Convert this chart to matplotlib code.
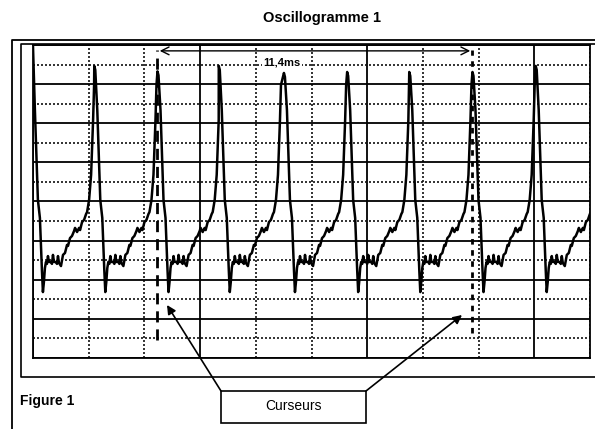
import numpy as np
import matplotlib
matplotlib.use("Agg")
import matplotlib.pyplot as plt
from matplotlib.patches import Rectangle

plt.rcParams['font.family'] = ['Liberation Sans', 'DejaVu Sans']

# screen: 10 divisions of 2 ms, 16 vertical divisions
t_max = 20.0
v_max = 16.0

# peak times (ms) and peak levels (div)
peak_t = [-0.04, 2.20, 4.47, 6.67, 9.01, 11.28, 13.51, 15.78, 18.05]
peak_v = [16.3, 14.93, 14.65, 14.93, 14.57, 14.62, 14.62, 14.62, 14.93]

# shape of one cycle after its peak (ms after peak, level in div)
shape_dt = [0.0, 0.036, 0.108, 0.216, 0.288, 0.360, 0.396, 0.432, 0.468,
            0.505, 0.541, 0.577, 0.613, 0.685, 0.721, 0.757, 0.793, 0.865,
            0.901, 0.937, 0.973, 1.045, 1.117, 1.189, 1.261, 1.297, 1.369,
            1.441, 1.514, 1.550, 1.622, 1.694, 1.730, 1.802, 1.874, 1.946,
            1.982, 2.054, 2.126, 2.198, 2.234]
shape_v = [0.0, -0.2, 12.68, 8.08, 7.16, 4.50, 3.37, 3.89, 4.60,
           4.91, 4.81, 5.21, 4.91, 4.91, 4.81, 5.27, 4.91, 4.91,
           4.81, 5.21, 4.86, 4.70, 5.27, 5.37, 5.78, 5.73, 6.13,
           6.24, 6.49, 6.65, 6.44, 6.65, 6.54, 6.95, 7.06, 7.36,
           7.46, 8.08, 9.36, 12.17, 13.96]

cursors = [4.47, 15.78]
cursor_bottom = [0.92, 1.28]
cursor_top = 15.75
delta_label = '11,4ms'

# build the trace cycle by cycle
tt, vv = [], []
for i in range(len(peak_t)):
    t_end = peak_t[i + 1] if i + 1 < len(peak_t) else t_max + 0.5
    for dt, v in zip(shape_dt, shape_v):
        t = peak_t[i] + dt
        if t >= t_end:
            break
        if dt == 0.0:
            v = peak_v[i]
        elif dt < 0.05:
            v = peak_v[i] + v
        tt.append(t)
        vv.append(v)

fig = plt.figure(figsize=(5.95, 4.29), dpi=100)
W, H = 595, 429
ax = fig.add_axes([33 / W, (H - 358) / H, 557 / W, 313 / H])
ax.set_xlim(0, t_max)
ax.set_ylim(0, v_max)

ax.set_xticks(np.arange(0, t_max + 0.1, 6))
ax.set_xticks(np.arange(0, t_max + 0.1, 2), minor=True)
ax.set_yticks(np.arange(0, v_max + 0.1, 2))
ax.set_yticks(np.arange(0, v_max + 0.1, 1), minor=True)
ax.grid(which='major', color='black', lw=1.3, ls='-')
ax.grid(which='minor', color='#111111', lw=1.2, ls=(0, (1.2, 1.2)))
ax.tick_params(which='both', length=0, labelbottom=False, labelleft=False)
for s in ax.spines.values():
    s.set_linewidth(1.3)

ax.plot(tt, vv, color='black', lw=1.8, zorder=5)

ax.vlines(cursors[0], cursor_bottom[0], cursor_top, color='black', lw=2.0,
          linestyles=[(0, (4, 2.5))], zorder=6)
ax.vlines(cursors[1], cursor_bottom[1], cursor_top, color='black', lw=2.0,
          linestyles=[(0, (2, 2))], zorder=6)

ax.annotate('', xy=(cursors[0] + 0.08, 15.7), xytext=(cursors[1] - 0.08, 15.7),
            arrowprops=dict(arrowstyle='<->', lw=1.0, color='black',
                            mutation_scale=14, shrinkA=0, shrinkB=0), zorder=7)
ax.text(8.94, 15.08, delta_label, fontsize=8, fontweight='bold', ha='center',
        va='center', zorder=7,
        bbox=dict(facecolor='white', edgecolor='none', pad=1))

# page decoration in pixel coordinates
ov = fig.add_axes([0, 0, 1, 1])
ov.set_xlim(0, W)
ov.set_ylim(H, 0)
ov.axis('off')

ov.plot([12, 12, W], [H, 40, 40], color='black', lw=1.3)
ov.plot([W, 21, 21, W], [377, 377, 44, 44], color='black', lw=1.2)

ov.text(322, 18, 'Oscillogramme 1', fontsize=10.5, fontweight='bold',
        ha='center', va='center')
ov.text(20, 401, 'Figure 1', fontsize=10, fontweight='bold',
        ha='left', va='center')

ov.add_patch(Rectangle((221, 391), 145, 32, facecolor='white',
                       edgecolor='black', lw=1.2))
ov.text(293.5, 406, 'Curseurs', fontsize=10, ha='center', va='center')
ov.annotate('', xy=(167, 305), xytext=(221, 391),
            arrowprops=dict(arrowstyle='-|>', lw=1.2, color='black',
                            mutation_scale=13, shrinkA=0, shrinkB=0))
ov.annotate('', xy=(462, 315), xytext=(366, 391),
            arrowprops=dict(arrowstyle='-|>', lw=1.2, color='black',
                            mutation_scale=13, shrinkA=0, shrinkB=0))

fig.savefig('out.png', dpi=100)
